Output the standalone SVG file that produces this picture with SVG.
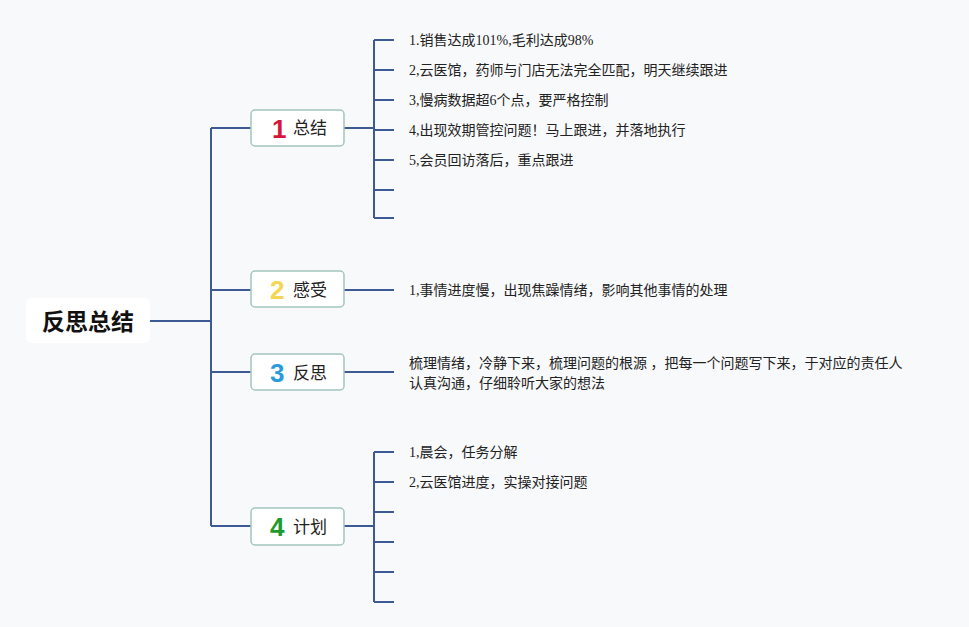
<svg xmlns="http://www.w3.org/2000/svg" width="969" height="627" viewBox="0 0 969 627">
<style>
.ln{stroke:#3d5a94;stroke-width:2;fill:none}
.box{fill:#ffffff;stroke:#a3c6bc;stroke-width:1.5}
.num{font-family:"Liberation Sans","Noto Sans",sans-serif;font-weight:bold;font-size:26px}
.lbl{font-family:"Noto Sans CJK SC",sans-serif;font-size:17px;fill:#222}
.t{font-family:"Liberation Serif","Noto Sans CJK SC",serif;font-size:14px;fill:#222}
</style>
<rect width="969" height="627" fill="#f8f9fb"/>
<g id="connectors">
<path class="ln" d="M150,321H211M211,128V526M211,128H251M211,290H251M211,372H251M211,526H251"/>
<path class="ln" d="M344,128H374M374,40V218M374,40H394M374,70H394M374,100H394M374,130H394M374,160H394M374,190H394M374,218H394"/>
<path class="ln" d="M344,290H394"/>
<path class="ln" d="M344,372H394"/>
<path class="ln" d="M344,526H374M374,452V602M374,452H394M374,482H394M374,512H394M374,542H394M374,572H394M374,602H394"/>
</g>
<g id="root">
<rect x="26" y="298" width="124" height="45" rx="6" fill="#ffffff"/>
<text x="88" y="330" text-anchor="middle" font-family="Noto Sans CJK SC,sans-serif" font-weight="bold" font-size="23" fill="#111">反思总结</text>
</g>
<g id="n1">
<rect class="box" x="251" y="110" width="93" height="36" rx="4"/>
<text class="num" x="272" y="138" fill="#d7143a">1</text>
<text class="lbl" x="293" y="134">总结</text>
</g>
<g id="n2">
<rect class="box" x="251" y="271" width="93" height="36" rx="4"/>
<text class="num" x="270" y="299" fill="#f3d652">2</text>
<text class="lbl" x="293" y="296">感受</text>
</g>
<g id="n3">
<rect class="box" x="251" y="354" width="93" height="36" rx="4"/>
<text class="num" x="270" y="382" fill="#2b9be0">3</text>
<text class="lbl" x="293" y="379">反思</text>
</g>
<g id="n4">
<rect class="box" x="251" y="508" width="93" height="37" rx="4"/>
<text class="num" x="270" y="536" fill="#1f9a2c">4</text>
<text class="lbl" x="293" y="533">计划</text>
</g>
<g id="n1-items">
<text class="t" x="409" y="45">1.销售达成101%,毛利达成98%</text>
<text class="t" x="409" y="75">2,云医馆，药师与门店无法完全匹配，明天继续跟进</text>
<text class="t" x="409" y="105">3,慢病数据超6个点，要严格控制</text>
<text class="t" x="409" y="135">4,出现效期管控问题！马上跟进，并落地执行</text>
<text class="t" x="409" y="165">5,会员回访落后，重点跟进</text>
</g>
<g id="n2-items">
<text class="t" x="409" y="295">1,事情进度慢，出现焦躁情绪，影响其他事情的处理</text>
</g>
<g id="n3-items">
<text class="t" x="409" y="368">梳理情绪，冷静下来，梳理问题的根源 ，把每一个问题写下来，于对应的责任人</text>
<text class="t" x="409" y="388">认真沟通，仔细聆听大家的想法</text>
</g>
<g id="n4-items">
<text class="t" x="409" y="457">1,晨会，任务分解</text>
<text class="t" x="409" y="487">2,云医馆进度，实操对接问题</text>
</g>
</svg>
